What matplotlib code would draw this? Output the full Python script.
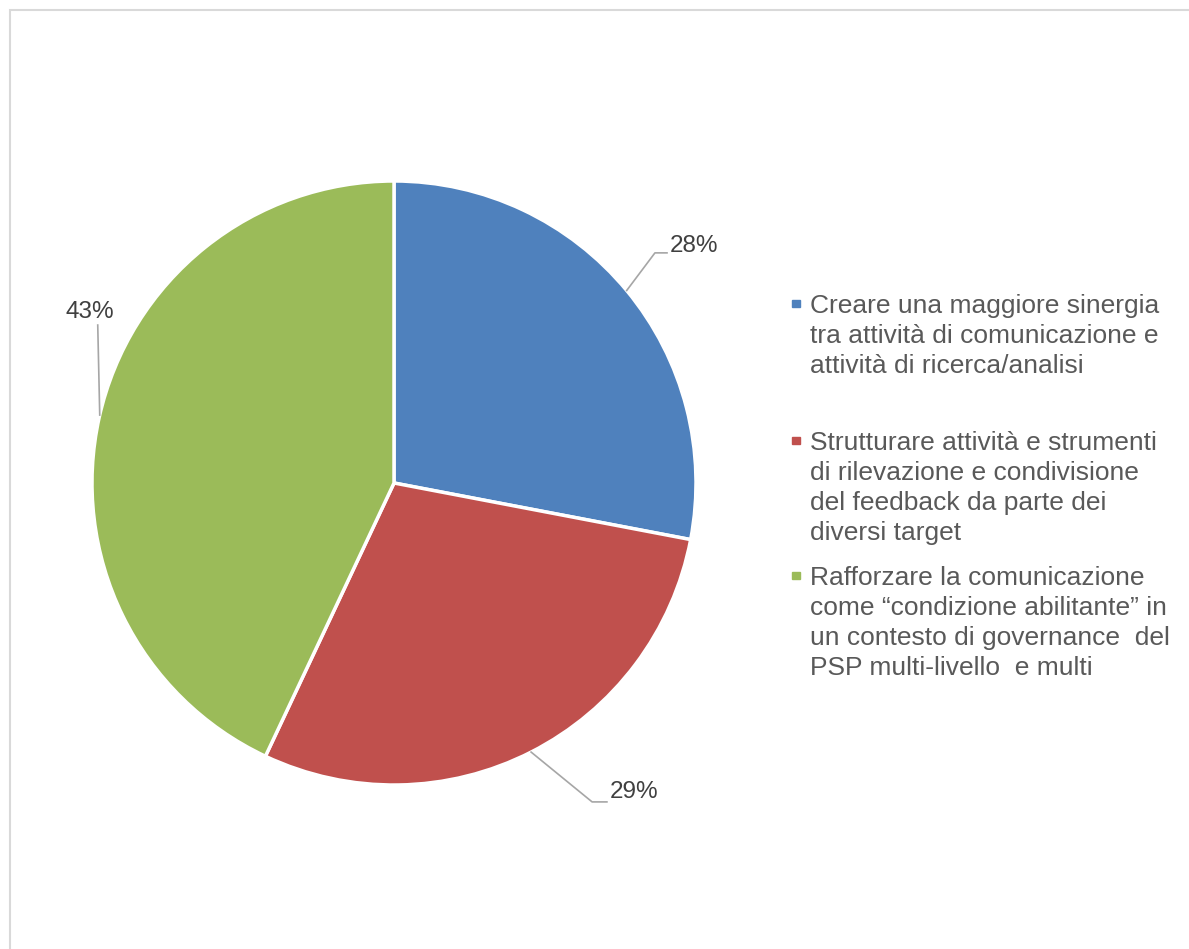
import numpy as np
import matplotlib.pyplot as plt
from matplotlib.patches import Rectangle

plt.rcParams['font.family'] = ['Liberation Sans', 'DejaVu Sans']

labels = [
    'Creare una maggiore sinergia\ntra attività di comunicazione e\nattività di ricerca/analisi',
    'Strutturare attività e strumenti\ndi rilevazione e condivisione\ndel feedback da parte dei\ndiversi target',
    'Rafforzare la comunicazione\ncome \u201ccondizione abilitante\u201d in\nun contesto di governance  del\nPSP multi-livello  e multi',
]
values = [28, 29, 43]
pct_labels = ['28%', '29%', '43%']
colors = ['#4F81BD', '#C0504D', '#9BBB59']

W, H = 1189, 949
fig = plt.figure(figsize=(W / 100, H / 100), dpi=100)

# light frame around the chart area
fig.patches.append(Rectangle((10 / W, -0.5), 2.0, 1.5 - 10 / H, transform=fig.transFigure,
                             fill=False, edgecolor='#d9d9d9', linewidth=1.5))

cx, cy, r = 394, 483, 302
ax = fig.add_axes([(cx - r) / W, (H - cy - r) / H, 2 * r / W, 2 * r / H])
wedges, _ = ax.pie(values, colors=colors, startangle=90, counterclock=False,
                   wedgeprops=dict(edgecolor='white', linewidth=2.5))
ax.set_xlim(-1, 1)
ax.set_ylim(-1, 1)
ax.set_aspect('equal')

# leader lines: anchor angle on the rim, elbow, end of line, text position
anchors = [None, None, 167]
elbows = [(0.864, 0.762), (0.656, -1.056), (-0.981, 0.523)]
ends = [(0.904, 0.762), (0.705, -1.056), (-0.981, 0.523)]
texts = [(0.914, 0.785, 'left'), (0.715, -1.023, 'left'), (-1.007, 0.566, 'center')]
for w, a, el, en, t, lab in zip(wedges, anchors, elbows, ends, texts, pct_labels):
    ang = a if a is not None else (w.theta1 + w.theta2) / 2
    x0, y0 = np.cos(np.radians(ang)), np.sin(np.radians(ang))
    ax.plot([x0, el[0], en[0]], [y0, el[1], en[1]], color='#a6a6a6', lw=1.2, clip_on=False)
    ax.text(t[0], t[1], lab, ha=t[2], va='center', fontsize=17.5, color='#404040')

# legend, one text line at a time so the baselines sit where they should
first_baseline = [313, 450, 585]
step = 30
for lab, col, b0 in zip(labels, colors, first_baseline):
    fig.patches.append(Rectangle((792 / W, 1 - (b0 - 6) / H), 7.5 / W, 7.5 / H,
                                 transform=fig.transFigure, color=col))
    for i, line in enumerate(lab.split('\n')):
        fig.text(810 / W, 1 - (b0 + i * step) / H, line, ha='left', va='baseline',
                 fontsize=19, color='#595959')

fig.savefig('out.png', dpi=100, facecolor='white')
